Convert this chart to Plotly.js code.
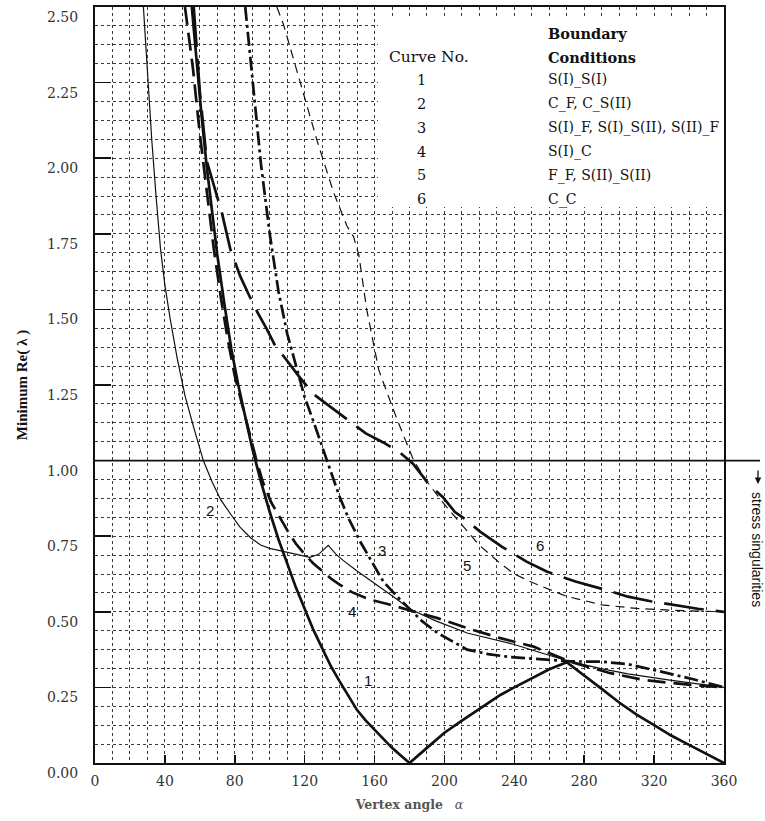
<!DOCTYPE html>
<html>
<head>
<meta charset="utf-8">
<script src="https://cdn.plot.ly/plotly-3.0.1.min.js"></script>
<style>html,body{margin:0;padding:0;background:#fff;}#chart{width:765px;height:821px;}</style>
</head>
<body>
<div id="chart"></div>
<script>
// ---- Data (vertex angle in degrees, minimum Re(lambda)) ----
const curveNames = ["1", "2", "3", "4", "5", "6"];
const conditionTexts = ["S(I)_S(I)", "C_F, C_S(II)", "S(I)_F, S(I)_S(II), S(II)_F", "S(I)_C", "F_F, S(II)_S(II)", "C_C"];

const c1Angle  = [55.4, 58, 61, 64, 67, 70, 74, 78, 82, 86, 90, 95, 100, 105, 110, 115, 120, 125, 130, 135, 140, 145, 150, 155, 160, 165, 170, 175, 180, 190, 200, 210, 220, 232, 240, 250, 260, 270, 280, 290, 300, 310, 320, 330, 340, 350, 360];
const c1Lambda = [2.50, 2.32, 2.14, 1.97, 1.82, 1.68, 1.52, 1.37, 1.25, 1.14, 1.04, 0.93, 0.83, 0.74, 0.66, 0.58, 0.51, 0.44, 0.38, 0.32, 0.27, 0.22, 0.175, 0.14, 0.11, 0.08, 0.05, 0.025, 0.0, 0.05, 0.10, 0.14, 0.18, 0.225, 0.25, 0.28, 0.31, 0.333, 0.29, 0.245, 0.20, 0.16, 0.125, 0.09, 0.06, 0.03, 0.0];

const c2Angle  = [27.7, 30, 32.5, 35, 37.5, 40, 43, 47, 51.5, 56, 62, 67, 72, 78, 83, 89, 95, 100, 108, 115, 123, 128, 133.5, 138, 142, 150, 157.5, 165, 172, 180, 195, 213, 238, 251, 272, 289, 305, 328, 345, 360];
const c2Lambda = [2.50, 2.28, 2.06, 1.87, 1.70, 1.58, 1.47, 1.34, 1.215, 1.12, 1.00, 0.93, 0.87, 0.82, 0.78, 0.745, 0.72, 0.71, 0.70, 0.69, 0.68, 0.69, 0.72, 0.69, 0.67, 0.635, 0.605, 0.575, 0.545, 0.51, 0.47, 0.43, 0.395, 0.372, 0.335, 0.313, 0.295, 0.275, 0.262, 0.25];

const c3Angle  = [86, 90, 95, 100, 105, 110, 115.6, 120, 125, 133, 140, 145, 152, 158, 165, 173, 180, 187, 196, 205, 213, 225, 238, 251, 262, 272, 290, 305, 324, 343, 360];
const c3Lambda = [2.50, 2.26, 1.98, 1.75, 1.56, 1.42, 1.30, 1.21, 1.13, 1.00, 0.88, 0.81, 0.73, 0.67, 0.60, 0.55, 0.51, 0.47, 0.43, 0.40, 0.375, 0.36, 0.35, 0.345, 0.34, 0.336, 0.335, 0.327, 0.302, 0.276, 0.25];

const c4Angle  = [51.5, 56, 60, 64, 68, 72, 76, 80, 84, 88, 92, 96, 101, 105, 110, 115, 120, 125, 130, 135, 140, 147, 157.6, 168, 180, 196, 213, 232, 251, 272, 295, 314, 331, 345, 360];
const c4Lambda = [2.50, 2.30, 2.08, 1.88, 1.70, 1.54, 1.40, 1.28, 1.19, 1.10, 1.01, 0.93, 0.86, 0.82, 0.77, 0.725, 0.69, 0.66, 0.635, 0.61, 0.59, 0.565, 0.54, 0.525, 0.505, 0.479, 0.446, 0.413, 0.385, 0.335, 0.297, 0.275, 0.264, 0.256, 0.25];

const c5Angle  = [104.1, 108, 117.5, 127, 136.6, 144.2, 148, 151, 153, 155.5, 158.6, 162.4, 167.2, 172.9, 182.4, 190, 200, 211, 220, 232, 240, 251, 270, 290, 310, 330, 360];
const c5Lambda = [2.50, 2.44, 2.25, 2.06, 1.886, 1.776, 1.74, 1.68, 1.60, 1.50, 1.41, 1.30, 1.224, 1.136, 1.0, 0.93, 0.855, 0.78, 0.72, 0.66, 0.625, 0.595, 0.551, 0.523, 0.511, 0.505, 0.50];

const c6Angle  = [56.5, 60, 64, 68.5, 72.6, 77.4, 83.1, 87.9, 93, 98.4, 104, 108, 116.5, 125, 136.6, 145.2, 155, 165, 173.8, 182, 192, 199, 206, 211, 220.4, 233, 247, 258.5, 275, 292, 305, 318, 331, 345, 360];
const c6Lambda = [2.50, 2.22, 1.99, 1.90, 1.82, 1.70, 1.61, 1.55, 1.49, 1.434, 1.37, 1.345, 1.28, 1.22, 1.169, 1.13, 1.09, 1.06, 1.03, 0.99, 0.915, 0.88, 0.83, 0.81, 0.765, 0.715, 0.666, 0.633, 0.60, 0.573, 0.55, 0.535, 0.523, 0.51, 0.50];

const xTickValues = [0, 40, 80, 120, 160, 200, 240, 280, 320, 360];
const yTickValues = [0, 0.25, 0.5, 0.75, 1.0, 1.25, 1.5, 1.75, 2.0, 2.25, 2.5];
const singularityLevel = 1.0;

// ---- Layout geometry (pixels) ----
const W = 765, H = 821;
const L = 95, R = 724, T = 7, B = 763;
const px = v => (v - L) / (R - L);     // pixel x -> paper
const py = v => (B - v) / (B - T);     // pixel y -> paper

const INK = '#111';
const serif = 'Liberation Serif, Times New Roman, serif';
const wideSerif = 'DejaVu Serif, serif';
const sans = 'Liberation Sans, Arial, sans-serif';

function tr(x, y, width, dash) {
  return {x: x, y: y, type: 'scatter', mode: 'lines', hoverinfo: 'skip',
          line: {color: INK, width: width, dash: dash, shape: 'linear'}};
}

const traces = [
  tr(c1Angle, c1Lambda, 2.7, 'solid'),
  tr(c2Angle, c2Lambda, 1.2, 'solid'),
  tr(c3Angle, c3Lambda, 2.7, '14px,4px,3px,4px'),
  tr(c4Angle, c4Lambda, 2.7, '18px,8px'),
  tr(c5Angle, c5Lambda, 1.2, '9px,6px'),
  tr(c6Angle, c6Lambda, 2.7, '40px,12px')
];

const gridStyle = {gridcolor: '#3a3a3a', griddash: 'dot', gridwidth: 1};

const annotations = [];
// Legend table
annotations.push({xref:'paper', yref:'paper', x: px(546), y: py(33), xanchor:'left', yanchor:'middle', showarrow:false,
  text:'<b>Boundary</b>', font:{family: wideSerif, size: 14.5, color: INK}});
annotations.push({xref:'paper', yref:'paper', x: px(546), y: py(57), xanchor:'left', yanchor:'middle', showarrow:false,
  text:'<b>Conditions</b>', font:{family: wideSerif, size: 14.5, color: INK}});
annotations.push({xref:'paper', yref:'paper', x: px(387), y: py(57), xanchor:'left', yanchor:'middle', showarrow:false,
  text:'Curve No.', font:{family: wideSerif, size: 15.5, color: INK}});
const rowY = [80, 104, 128, 152, 175, 199];
curveNames.forEach((n, i) => {
  annotations.push({xref:'paper', yref:'paper', x: px(421), y: py(rowY[i]), xanchor:'center', yanchor:'middle', showarrow:false,
    text: n, font:{family: wideSerif, size: 14.5, color: INK}});
  annotations.push({xref:'paper', yref:'paper', x: px(546), y: py(rowY[i]), xanchor:'left', yanchor:'middle', showarrow:false,
    text: conditionTexts[i], font:{family: wideSerif, size: 14, color: INK}});
});
// Curve number labels on the plot
const labelPix = [[368, 680], [210, 510], [382, 550], [352, 611], [467, 565], [540, 545]];
curveNames.forEach((n, i) => {
  annotations.push({xref:'paper', yref:'paper', x: px(labelPix[i][0]), y: py(labelPix[i][1]), xanchor:'center', yanchor:'middle', showarrow:false,
    text: n, font:{family: sans, size: 15, color: INK}});
});
// stress singularities note
annotations.push({xref:'paper', yref:'paper', x: px(757), y: py(549), xanchor:'center', yanchor:'middle', showarrow:false,
  textangle: 90, text:'stress singularities', font:{family: 'Liberation Sans Narrow, ' + sans, size: 14, color: INK}});
annotations.push({xref:'paper', yref:'paper', x: px(758), y: py(484), showarrow:true, arrowhead:2, arrowsize:1, arrowwidth:1.3,
  arrowcolor: INK, ax: 0, ay: -15, text:''});

const shapes = [
  // legend white box
  {type:'rect', xref:'paper', yref:'paper', x0: px(378), x1: px(723), y0: py(207), y1: py(16),
   fillcolor:'#fff', line:{width:0}, layer:'above'},
  // the Re(lambda)=1 threshold line, extended past the right frame
  {type:'line', xref:'paper', yref:'paper', x0: 0, x1: px(760), y0: singularityLevel / 2.5, y1: singularityLevel / 2.5,
   line:{color: INK, width: 1.6}, layer:'above'}
];

const layout = {
  width: W, height: H,
  margin: {l: L, r: W - R, t: T, b: H - B, pad: 0},
  paper_bgcolor: '#fff', plot_bgcolor: '#fff',
  showlegend: false,
  xaxis: Object.assign({
    range: [0, 360], tickmode: 'array', tickvals: xTickValues, ticktext: xTickValues.map(String),
    ticks: 'inside', ticklen: 8, tickwidth: 1.5, tickcolor: INK,
    showline: true, linecolor: INK, linewidth: 2, mirror: true, zeroline: false, showgrid: true,
    minor: Object.assign({dtick: 10, tick0: 0, showgrid: true, ticks: ''}, gridStyle),
    tickfont: {family: wideSerif, size: 14, color: '#333'}, ticklabelstandoff: 4,
    title: {text: '\u00a0\u00a0\u00a0\u00a0\u00a0<b>Vertex angle</b>\u00a0\u00a0 <i>α</i>', font: {family: wideSerif, size: 12.5, color: '#555'}, standoff: 12},
    fixedrange: true
  }, gridStyle),
  yaxis: Object.assign({
    range: [0, 2.5], tickmode: 'array', tickvals: yTickValues, ticktext: yTickValues.map(v => v.toFixed(2)),
    ticks: 'inside', ticklen: 16, tickwidth: 1.5, tickcolor: INK,
    showline: true, linecolor: INK, linewidth: 2, mirror: true, zeroline: false, showgrid: true,
    minor: Object.assign({dtick: 0.0625, tick0: 0, showgrid: true, ticks: ''}, gridStyle),
    tickfont: {family: wideSerif, size: 14, color: '#333'}, ticklabelstandoff: 12, ticklabelshift: 10,
    title: {text: '<b>Minimum Re( λ )</b>', font: {family: serif, size: 15, color: INK}, standoff: 16},
    fixedrange: true
  }, gridStyle),
  annotations: annotations,
  shapes: shapes
};

Plotly.newPlot('chart', traces, layout, {staticPlot: true, displayModeBar: false});
</script>
</body>
</html>
